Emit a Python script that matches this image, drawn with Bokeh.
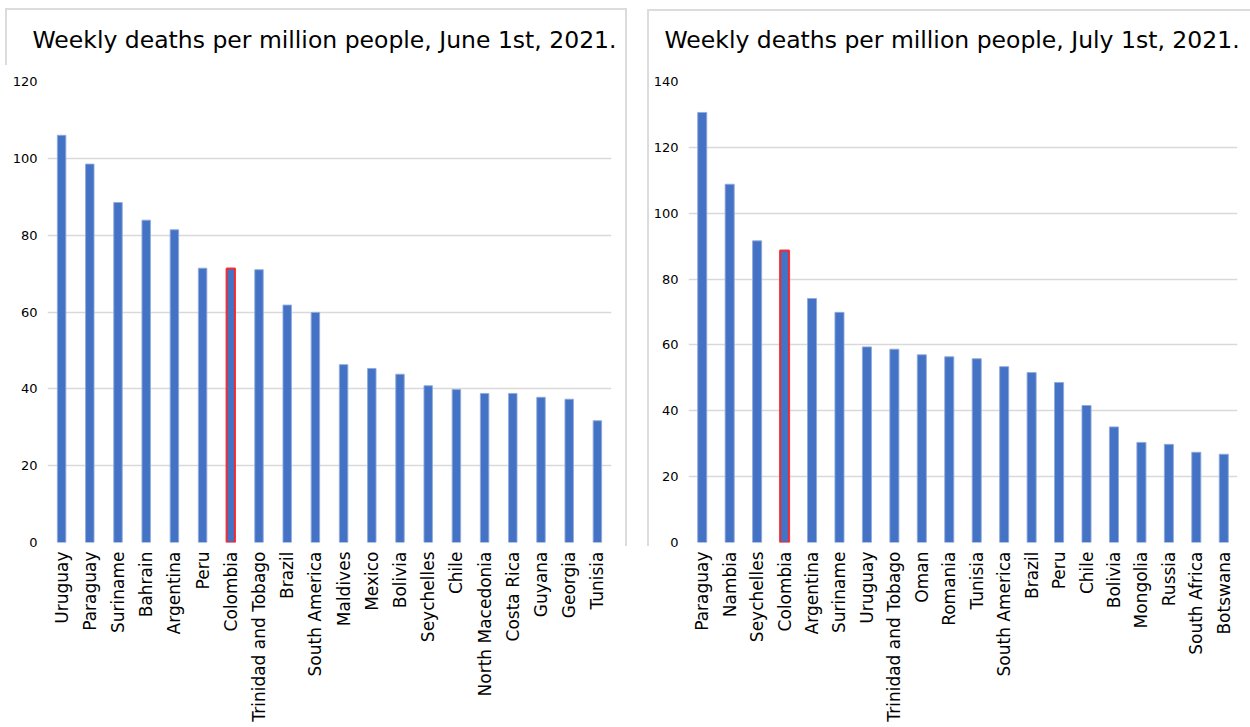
import math
from bokeh.plotting import figure
from bokeh.layouts import row
from bokeh.models import ColumnDataSource, FixedTicker, Range1d, FactorRange, InlineStyleSheet
from bokeh.embed import file_html
from bokeh.resources import INLINE

june_countries = ["Uruguay", "Paraguay", "Suriname", "Bahrain", "Argentina", "Peru",
                  "Colombia", "Trinidad and Tobago", "Brazil", "South America",
                  "Maldives", "Mexico", "Bolivia", "Seychelles", "Chile",
                  "North Macedonia", "Costa Rica", "Guyana", "Georgia", "Tunisia"]
june_values = [106.0, 98.5, 88.5, 83.9, 81.4, 71.4, 71.3, 71.0, 61.8, 59.9,
               46.3, 45.3, 43.8, 40.8, 39.8, 38.8, 38.8, 37.8, 37.3, 31.7]

july_countries = ["Paraguay", "Nambia", "Seychelles", "Colombia", "Argentina",
                  "Suriname", "Uruguay", "Trinidad and Tobago", "Oman", "Romania",
                  "Tunisia", "South America", "Brazil", "Peru", "Chile", "Bolivia",
                  "Mongolia", "Russia", "South Africa", "Botswana"]
july_values = [130.6, 108.8, 91.6, 88.7, 74.1, 69.9, 59.4, 58.7, 57.0, 56.4,
               55.8, 53.4, 51.6, 48.6, 41.6, 35.1, 30.4, 29.8, 27.4, 26.8]

june_ticks = [0, 20, 40, 60, 80, 100, 120]
july_ticks = [0, 20, 40, 60, 80, 100, 120, 140]

highlight = "Colombia"
BLUE = "#4472C4"
FONT = "DejaVu Sans"


def make_chart(title, cats, vals, ticks, width, left, right, bar_w, title_offset):
    colors = ["#FF2020" if c == highlight else "#8FAADC" for c in cats]
    widths = [2 if c == highlight else 1 for c in cats]
    src = ColumnDataSource(dict(x=cats, top=vals, line=colors, lw=widths))
    p = figure(x_range=FactorRange(*cats), y_range=Range1d(0, ticks[-1]),
               width=width, height=727, output_backend="svg", toolbar_location=None,
               min_border_left=left, min_border_right=right, min_border_top=81,
               min_border_bottom=185)
    p.vbar(x="x", top="top", width=bar_w, source=src, fill_color=BLUE,
           line_color="line", line_width="lw", line_alpha=0.9)
    p.x_range.range_padding = 0
    p.title.text = title
    p.title.text_font = FONT
    p.title.text_font_size = "23.5px"
    p.title.text_font_style = "normal"
    p.title.text_color = "#000000"
    p.title.align = "left"
    p.title.vertical_align = "top"
    p.title.offset = title_offset
    p.title.standoff = 51
    p.outline_line_color = None
    p.background_fill_color = "white"
    p.border_fill_color = "white"

    p.yaxis.ticker = FixedTicker(ticks=ticks)
    p.yaxis.axis_line_color = None
    p.yaxis.major_tick_line_color = None
    p.yaxis.minor_tick_line_color = None
    p.yaxis.major_tick_out = 0
    p.yaxis.major_label_standoff = 10
    p.yaxis.major_label_text_font = FONT
    p.yaxis.major_label_text_font_size = "13px"
    p.yaxis.major_label_text_color = "#000000"

    p.xaxis.axis_line_color = None
    p.xaxis.major_tick_line_color = None
    p.xaxis.minor_tick_line_color = None
    p.xaxis.major_tick_out = 0
    p.xaxis.major_label_standoff = 9
    p.xaxis.major_label_orientation = math.pi / 2
    p.xaxis.major_label_text_font = FONT
    p.xaxis.major_label_text_font_size = "17px"
    p.xaxis.major_label_text_color = "#000000"

    p.xgrid.grid_line_color = None
    p.ygrid.grid_line_color = "#D9D9D9"
    p.ygrid.grid_line_width = 1.5
    p.ygrid.ticker = FixedTicker(ticks=ticks)
    return p


p1 = make_chart("Weekly deaths per million people, June 1st, 2021.",
                june_countries, june_values, june_ticks,
                640, 47, 29, 0.3, -15)
p2 = make_chart("Weekly deaths per million people, July 1st, 2021.",
                july_countries, july_values, july_ticks,
                610, 48, 13, 0.33, -24)

# light panel borders, drawn with CSS pseudo-elements
p1.stylesheets = [InlineStyleSheet(css="""
:host { position: relative; }
:host::before { content: ""; position: absolute; left: 5px; top: 8px; width: 620px; height: 57px;
  border-top: 2px solid #DCDCDC; border-left: 2px solid #DCDCDC; pointer-events: none; z-index: 10; }
:host::after { content: ""; position: absolute; left: 625px; top: 8px; width: 0px; height: 538px;
  border-left: 2px solid #DCDCDC; pointer-events: none; z-index: 10; }
""")]
p2.stylesheets = [InlineStyleSheet(css="""
:host { position: relative; }
:host::before { content: ""; position: absolute; left: 7px; top: 9px; width: 603px; height: 537px;
  border-top: 2px solid #DCDCDC; border-left: 2px solid #DCDCDC; pointer-events: none; z-index: 10; }
""")]

layout = row(p1, p2, spacing=0)
open("out.html", "w").write(file_html(layout, INLINE))
